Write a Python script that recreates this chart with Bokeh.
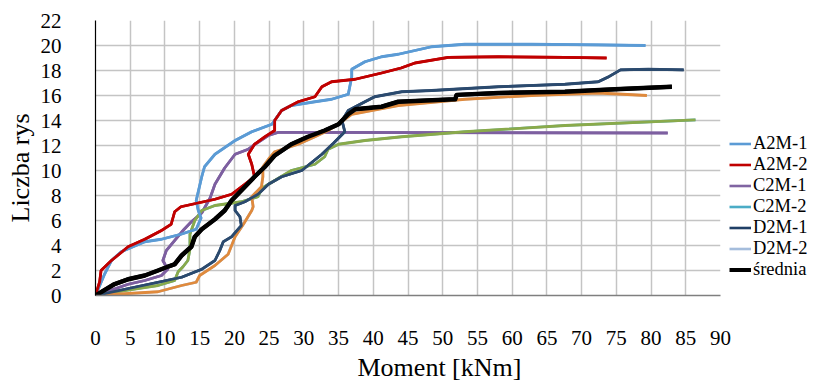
import math
from bokeh.plotting import figure
from bokeh.models import Legend, LegendItem, FixedTicker, Title
from bokeh.embed import file_html
from bokeh.resources import INLINE

# ---- data ----
a2m1_x = [0, 1.3, 2.3, 3.7, 7.1, 9.5, 12.3, 14.5, 15.2, 14.8, 14.5, 15.3, 15.7, 17.2, 20.1, 22.5, 25.4, 26.8, 28.2, 31.6, 34, 36.4, 36.9, 36.9, 38.8, 41.2, 43.6, 48.4, 53.2, 62.8, 72.4, 79.2]
a2m1_y = [0, 1.7, 2.8, 3.5, 4.3, 4.5, 4.9, 5.3, 6.2, 6.8, 7.6, 9.5, 10.3, 11.3, 12.4, 13.1, 13.7, 14.8, 15.2, 15.5, 15.7, 16.1, 17.5, 18.1, 18.7, 19.1, 19.3, 19.9, 20.1, 20.1, 20.05, 20.0]

a2m2_x = [0, 0.6, 0.8, 2.3, 4.7, 7.1, 9.5, 10.9, 11.4, 12.3, 17.2, 19.6, 21.5, 22.9, 22.5, 22.0, 22.9, 24.4, 25.8, 25.8, 26.8, 29.2, 31.6, 32.6, 34, 37.4, 41.2, 44, 46, 50.8, 58, 67.6, 73.6]
a2m2_y = [0, 1.1, 2.0, 2.8, 3.9, 4.5, 5.2, 5.7, 6.7, 7.1, 7.7, 8.1, 8.9, 9.5, 10.5, 11.3, 12.1, 12.7, 13.2, 14.0, 14.8, 15.5, 15.9, 16.7, 17.1, 17.3, 17.8, 18.2, 18.6, 19.05, 19.1, 19.05, 19.0]

c2m1_x = [0, 4.7, 7.1, 9.5, 10.4, 9.7, 10.2, 11.4, 12.6, 13.8, 15.3, 16.5, 17.2, 18.6, 20.1, 22.0, 23.0, 24.9, 26.3, 30, 82.4]
c2m1_y = [0, 0.9, 1.2, 1.6, 2.1, 2.8, 3.6, 4.4, 5.2, 5.9, 6.6, 7.8, 8.9, 10.2, 11.3, 11.7, 12.1, 12.8, 13.05, 13.05, 13.0]

c2m2_x = [0, 4.2, 9, 11.4, 11.9, 12.6, 13.3, 13.6, 13.6, 14.3, 15.3, 17.2, 21, 23.4, 24, 25.8, 28.2, 31.6, 33, 33.5, 35, 38.8, 44.1, 53.2, 67.6, 86.4]
c2m2_y = [0, 0.4, 0.8, 1.2, 1.9, 2.3, 2.8, 3.7, 4.9, 6.0, 6.8, 7.2, 7.5, 7.9, 8.6, 9.2, 10.0, 10.5, 11.1, 11.7, 12.1, 12.4, 12.7, 13.1, 13.6, 14.05]

d2m1_x = [0, 12.4, 15.3, 17.2, 17.9, 18.4, 19.6, 21, 20.8, 20.1, 20.1, 21.5, 23.4, 24.9, 26.8, 29.7, 32.6, 34.3, 35.9, 35.5, 36.4, 38.8, 40.2, 44.1, 48.4, 58, 67.6, 72.4, 73.9, 75.6, 79.6, 84.7]
d2m1_y = [0, 1.46, 2.1, 2.8, 3.6, 4.3, 4.7, 5.6, 6.3, 6.8, 7.2, 7.5, 8.1, 8.9, 9.5, 10.0, 11.3, 12.2, 13.1, 14.0, 14.8, 15.5, 15.9, 16.3, 16.4, 16.7, 16.9, 17.1, 17.5, 18.05, 18.1, 18.05]

d2m2_x = [0, 9, 12.4, 14.5, 15, 17.2, 19.1, 20.1, 21.3, 22.5, 22.7, 22.5, 23.9, 24.1, 24.1, 24.9, 25.8, 29.2, 31.6, 33.5, 35.4, 36.9, 38.8, 43.6, 53.2, 62.8, 72.4, 79.4]
d2m2_y = [0, 0.3, 0.8, 1.06, 1.6, 2.4, 3.3, 4.7, 5.7, 6.8, 7.1, 7.9, 8.7, 9.5, 10.3, 10.9, 11.5, 12.1, 12.7, 13.2, 13.9, 14.5, 14.7, 15.2, 15.7, 16.0, 16.2, 16.0]

mean_x = [0, 2.7, 4.7, 7.1, 9, 10.4, 11.4, 12.4, 13.8, 14.3, 15.3, 17.2, 18.6, 19.6, 21, 22.9, 24.4, 25.8, 28.2, 30.6, 33, 35, 36.4, 37.4, 41.2, 43.6, 51.8, 52, 58, 67.6, 74.8, 83]
mean_y = [0, 0.9, 1.3, 1.6, 2.0, 2.3, 2.5, 3.2, 3.9, 4.7, 5.3, 6.1, 6.8, 7.6, 8.4, 9.5, 10.3, 11.2, 12.1, 12.7, 13.2, 13.7, 14.5, 14.9, 15.1, 15.5, 15.7, 16.05, 16.2, 16.3, 16.5, 16.7]

legend_labels = ["A2M-1", "A2M-2", "C2M-1", "C2M-2", "D2M-1", "D2M-2", "średnia"]
x_ticks = list(range(0, 91, 5))
y_ticks = list(range(0, 23, 2))
x_title = "Moment [kNm]"
y_title = "Liczba rys"

# ---- styling ----
line_colors = ["#5B9BD5", "#C00000", "#7D5FA0", "#8AAA4B", "#2B4A6E", "#E08A3C", "#000000"]
legend_colors = ["#5B9BD5", "#C00000", "#8064A2", "#4BACC6", "#1F3F66", "#A5BDDC", "#000000"]
FONT = "Liberation Serif"

p = figure(frame_width=625, frame_height=275, x_range=(0, 90), y_range=(0, 22),
           output_backend="svg", toolbar_location=None,
           min_border_left=94, min_border_right=10, min_border_top=20, min_border_bottom=10)
p.outline_line_color = None
p.background_fill_color = "white"
p.border_fill_color = "white"

series = [(a2m1_x, a2m1_y), (a2m2_x, a2m2_y), (c2m1_x, c2m1_y), (c2m2_x, c2m2_y),
          (d2m1_x, d2m1_y), (d2m2_x, d2m2_y), (mean_x, mean_y)]

# legend glyphs (colours as in the reference legend), drawn underneath the visible lines
items = []
for (xs, ys), lab, col in zip(series, legend_labels, legend_colors):
    r = p.line(xs, ys, line_color=col, line_width=4 if lab == "średnia" else 2.6)
    items.append(LegendItem(label=lab, renderers=[r]))

draw_order = [2, 3, 5, 4, 0, 1]
for i in draw_order:
    xs, ys = series[i]
    p.line(xs, ys, line_color=line_colors[i], line_width=2.8, line_join="round")
p.line(mean_x, mean_y, line_color="black", line_width=4.5, line_join="round")

legend = Legend(items=items, location="bottom_left", orientation="vertical",
                glyph_width=22, glyph_height=21, label_height=21, label_standoff=2,
                spacing=0, padding=0, margin=9, border_line_color=None,
                background_fill_alpha=0, label_text_font=FONT,
                label_text_font_size="18.5px", label_text_color="black",
                title=" ", title_location="below", title_text_font_size="6px",
                title_standoff=0)
p.add_layout(legend, "right")

# axes
for ax in (p.xaxis, p.yaxis):
    ax.major_tick_line_color = None
    ax.minor_tick_line_color = None
    ax.major_label_text_font = FONT
    ax.major_label_text_font_size = "21px"
    ax.major_label_text_color = "black"
p.xaxis.ticker = FixedTicker(ticks=x_ticks)
p.yaxis.ticker = FixedTicker(ticks=y_ticks)
p.xaxis.axis_line_color = "#7f7f7f"
p.xaxis.axis_line_width = 1.5
p.yaxis.axis_line_color = "black"
p.yaxis.axis_line_width = 1.2
p.xaxis.major_label_standoff = 29
p.yaxis.major_label_standoff = 28

p.xgrid.ticker = FixedTicker(ticks=x_ticks)
p.ygrid.ticker = FixedTicker(ticks=y_ticks)
p.grid.grid_line_color = "#c4c4c4"
p.grid.grid_line_width = 1.5

p.add_layout(Title(text=x_title, align="left", offset=262, standoff=6,
                   text_font=FONT, text_font_size="26px", text_font_style="normal",
                   text_color="black"), "below")
p.add_layout(Title(text=y_title, align="left", offset=73, standoff=6,
                   text_font=FONT, text_font_size="26px", text_font_style="normal",
                   text_color="black"), "left")

open("out.html", "w").write(file_html(p, INLINE))
